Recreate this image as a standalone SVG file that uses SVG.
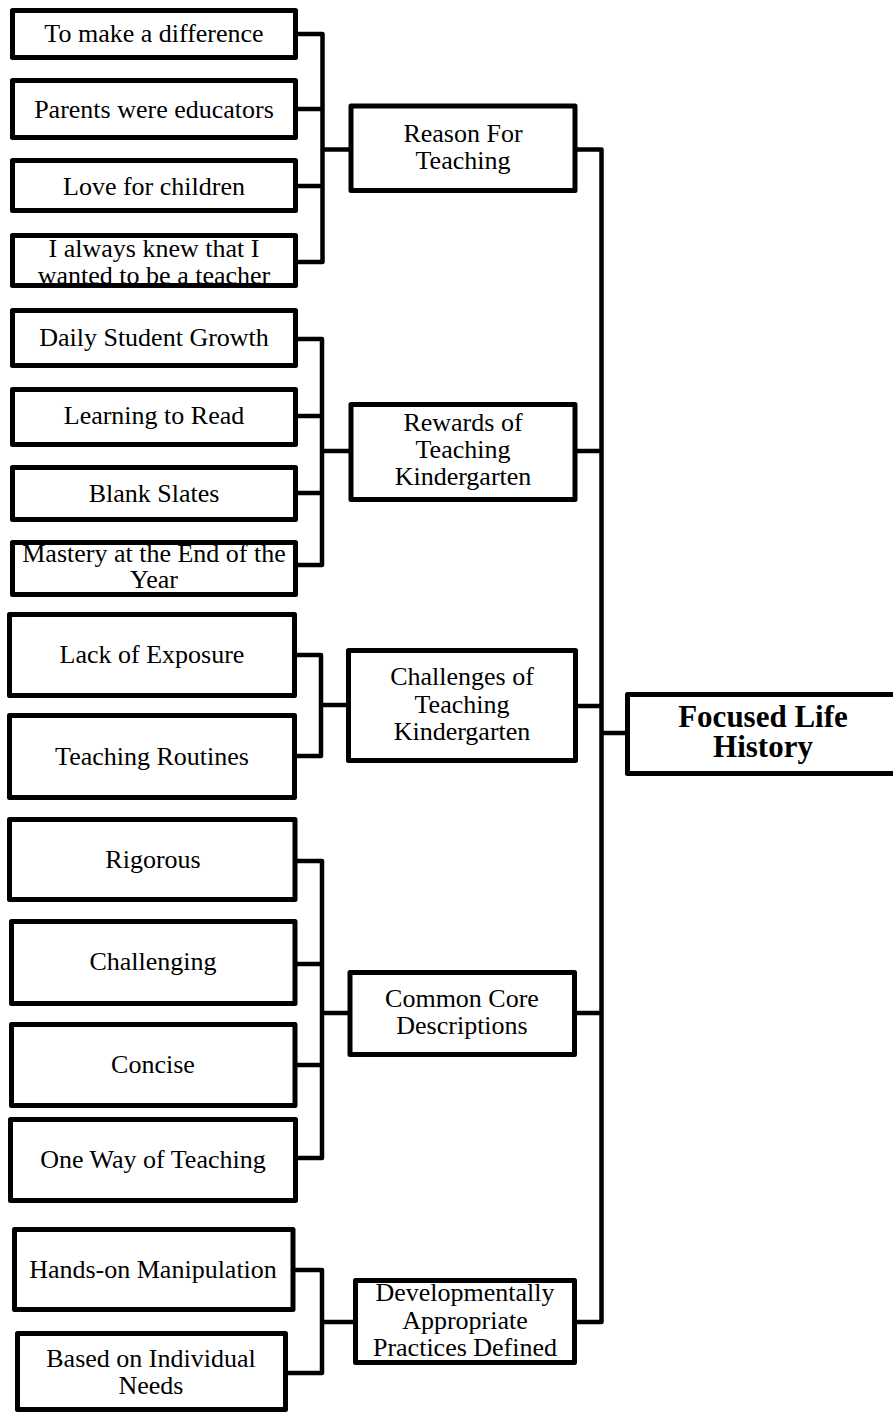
<svg xmlns="http://www.w3.org/2000/svg" width="893" height="1414" viewBox="0 0 893 1414">
<style>
.box{fill:#fff;stroke:#000;stroke-width:5;stroke-linejoin:round}
.t{font-family:"Liberation Serif","Times New Roman",serif;font-size:26px;fill:#000;text-anchor:middle}
.b{font-family:"Liberation Serif","Times New Roman",serif;font-size:31px;font-weight:bold;fill:#000;text-anchor:middle}
.c{fill:none;stroke:#000;stroke-width:4.5;stroke-linejoin:round;stroke-linecap:square}
</style>
<rect width="893" height="1414" fill="#fff"/>
<g id="connectors">
<path class="c" d="M297 34H322.5V262H297M297 109H322.5M297 186H322.5M322.5 149.5H351"/>
<path class="c" d="M297 339H322V565H297M297 416H322M297 493H322M322 451H351"/>
<path class="c" d="M296 655H321V756H296M321 705H348"/>
<path class="c" d="M296 861H322V1158H296M296 964H322M296 1065H322M322 1013H350"/>
<path class="c" d="M294 1270H322V1373H287M322 1322H355"/>
<path class="c" d="M575 149.5H601.5V1322H575M575 451H601.5M575.5 706H601.5M574.5 1013H601.5M601.5 733H627"/>
</g>
<g id="n-difference"><rect class="box" x="12.5" y="10.5" width="283" height="47"/><text class="t" x="154" y="42">To make a difference</text></g>
<g id="n-parents"><rect class="box" x="12.5" y="80.5" width="283" height="57"/><text class="t" x="154" y="118">Parents were educators</text></g>
<g id="n-love"><rect class="box" x="12.5" y="160.5" width="283" height="50"/><text class="t" x="154" y="195">Love for children</text></g>
<g id="n-knew"><rect class="box" x="12.5" y="235.5" width="283" height="50"/><text class="t" x="154" y="257">I always knew that I</text><text class="t" x="154" y="284">wanted to be a teacher</text></g>
<g id="n-reason"><rect class="box" x="351" y="106" width="224" height="84.5"/><text class="t" x="463" y="142">Reason For</text><text class="t" x="463" y="169">Teaching</text></g>

<g id="n-daily"><rect class="box" x="12.5" y="310.5" width="283" height="55"/><text class="t" x="154" y="346">Daily Student Growth</text></g>
<g id="n-read"><rect class="box" x="12.5" y="389.5" width="283" height="55"/><text class="t" x="154" y="424">Learning to Read</text></g>
<g id="n-blank"><rect class="box" x="12.5" y="467.5" width="283" height="52"/><text class="t" x="154" y="502">Blank Slates</text></g>
<g id="n-mastery"><rect class="box" x="12.5" y="542.5" width="283" height="52"/><text class="t" x="154" y="562">Mastery at the End of the</text><text class="t" x="154" y="588">Year</text></g>
<g id="n-rewards"><rect class="box" x="351" y="404.5" width="224" height="95"/><text class="t" x="463" y="431">Rewards of</text><text class="t" x="463" y="458">Teaching</text><text class="t" x="463" y="485">Kindergarten</text></g>

<g id="n-exposure"><rect class="box" x="9.5" y="614.5" width="285" height="81"/><text class="t" x="152" y="663">Lack of Exposure</text></g>
<g id="n-routines"><rect class="box" x="9.5" y="715.5" width="285" height="82"/><text class="t" x="152" y="765">Teaching Routines</text></g>
<g id="n-challenges"><rect class="box" x="348.5" y="650.5" width="227" height="110"/><text class="t" x="462" y="685">Challenges of</text><text class="t" x="462" y="713">Teaching</text><text class="t" x="462" y="740">Kindergarten</text></g>

<g id="n-focused"><rect class="box" x="627.5" y="694.5" width="280" height="79"/><text class="b" x="763" y="727">Focused Life</text><text class="b" x="763" y="757">History</text></g>

<g id="n-rigorous"><rect class="box" x="9.5" y="819.5" width="285.5" height="80"/><text class="t" x="153" y="868">Rigorous</text></g>
<g id="n-challenging"><rect class="box" x="11.5" y="921.5" width="283.5" height="82"/><text class="t" x="153" y="970">Challenging</text></g>
<g id="n-concise"><rect class="box" x="11.5" y="1024.5" width="283.5" height="81"/><text class="t" x="153" y="1073">Concise</text></g>
<g id="n-oneway"><rect class="box" x="10.5" y="1119.5" width="285" height="81"/><text class="t" x="153" y="1168">One Way of Teaching</text></g>
<g id="n-common"><rect class="box" x="350" y="972.5" width="224.5" height="82"/><text class="t" x="462" y="1007">Common Core</text><text class="t" x="462" y="1034">Descriptions</text></g>

<g id="n-hands"><rect class="box" x="14.5" y="1229.5" width="278.5" height="80"/><text class="t" x="153" y="1278">Hands-on Manipulation</text></g>
<g id="n-based"><rect class="box" x="17.5" y="1333.5" width="268" height="76"/><text class="t" x="151" y="1367">Based on Individual</text><text class="t" x="151" y="1394">Needs</text></g>
<g id="n-dap"><rect class="box" x="355.5" y="1280.5" width="219" height="82"/><text class="t" x="465" y="1301">Developmentally</text><text class="t" x="465" y="1329">Appropriate</text><text class="t" x="465" y="1356">Practices Defined</text></g>
</svg>
